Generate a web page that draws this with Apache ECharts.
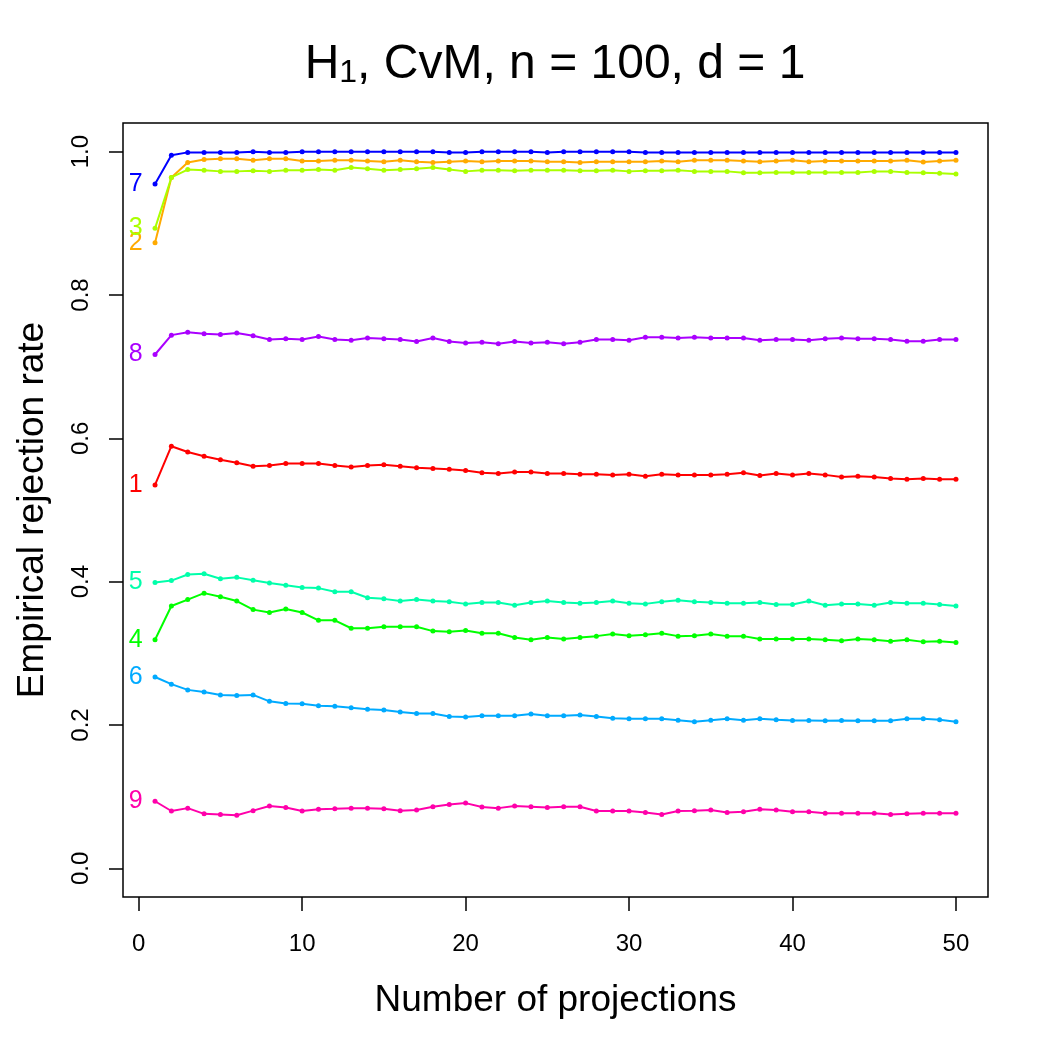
<!DOCTYPE html>
<html>
<head>
<meta charset="utf-8">
<script src="https://cdn.jsdelivr.net/npm/echarts@6/dist/echarts.min.js"></script>
<style>
  html, body { margin: 0; padding: 0; background: #fff; }
  #main { width: 1050px; height: 1050px; }
</style>
</head>
<body>
<div id="main"></div>
<script>
var projections = [1, 2, 3, 4, 5, 6, 7, 8, 9, 10, 11, 12, 13, 14, 15, 16, 17, 18, 19, 20,
  21, 22, 23, 24, 25, 26, 27, 28, 29, 30, 31, 32, 33, 34, 35, 36, 37, 38, 39, 40,
  41, 42, 43, 44, 45, 46, 47, 48, 49, 50]

var names = ['1', '2', '3', '4', '5', '6', '7', '8', '9']
var colors = ['#FF0000', '#FFAA00', '#AAFF00', '#00FF00', '#00FFAA', '#00AAFF', '#0000FF', '#AA00FF', '#FF00AA']

var rate1 = [0.535, 0.589, 0.581, 0.575, 0.570, 0.566, 0.561, 0.562, 0.565, 0.565,
  0.565, 0.562, 0.560, 0.562, 0.563, 0.561, 0.559, 0.558, 0.557, 0.555,
  0.552, 0.551, 0.553, 0.553, 0.551, 0.551, 0.550, 0.550, 0.549, 0.550,
  0.547, 0.550, 0.549, 0.549, 0.549, 0.550, 0.552, 0.548, 0.551, 0.549,
  0.551, 0.549, 0.546, 0.547, 0.546, 0.544, 0.543, 0.544, 0.543, 0.543]
var rate2 = [0.873, 0.964, 0.985, 0.989, 0.990, 0.990, 0.988, 0.990, 0.990, 0.987,
  0.987, 0.988, 0.988, 0.987, 0.986, 0.988, 0.986, 0.985, 0.986, 0.987,
  0.986, 0.987, 0.987, 0.987, 0.986, 0.986, 0.985, 0.986, 0.986, 0.986,
  0.986, 0.987, 0.986, 0.988, 0.988, 0.988, 0.987, 0.986, 0.987, 0.988,
  0.986, 0.987, 0.987, 0.987, 0.987, 0.987, 0.988, 0.9855, 0.987, 0.988]
var rate3 = [0.893, 0.964, 0.975, 0.974, 0.9725, 0.9725, 0.9735, 0.9725, 0.974, 0.974,
  0.975, 0.974, 0.978, 0.976, 0.974, 0.975, 0.976, 0.978, 0.975, 0.9725,
  0.974, 0.974, 0.9735, 0.974, 0.974, 0.974, 0.9735, 0.9735, 0.974, 0.9725,
  0.9735, 0.9735, 0.974, 0.9725, 0.9725, 0.9725, 0.9707, 0.9707, 0.971, 0.971,
  0.971, 0.971, 0.971, 0.971, 0.9725, 0.9725, 0.971, 0.9707, 0.970, 0.9687]
var rate4 = [0.319, 0.366, 0.375, 0.384, 0.379, 0.373, 0.361, 0.357, 0.362, 0.357,
  0.346, 0.346, 0.335, 0.335, 0.337, 0.337, 0.337, 0.331, 0.330, 0.332,
  0.328, 0.328, 0.322, 0.319, 0.322, 0.320, 0.322, 0.324, 0.327, 0.3245,
  0.326, 0.328, 0.324, 0.3245, 0.327, 0.324, 0.324, 0.320, 0.320, 0.320,
  0.320, 0.319, 0.3175, 0.320, 0.319, 0.317, 0.319, 0.316, 0.317, 0.315]
var rate5 = [0.399, 0.4015, 0.410, 0.411, 0.404, 0.406, 0.402, 0.398, 0.395, 0.392,
  0.391, 0.386, 0.386, 0.3775, 0.376, 0.373, 0.375, 0.373, 0.372, 0.369,
  0.371, 0.371, 0.367, 0.371, 0.373, 0.371, 0.370, 0.371, 0.373, 0.370,
  0.369, 0.372, 0.374, 0.372, 0.371, 0.370, 0.370, 0.371, 0.368, 0.368,
  0.373, 0.367, 0.369, 0.369, 0.367, 0.371, 0.370, 0.370, 0.368, 0.366]
var rate6 = [0.267, 0.257, 0.249, 0.246, 0.242, 0.241, 0.242, 0.233, 0.230, 0.2295,
  0.227, 0.226, 0.224, 0.222, 0.221, 0.218, 0.216, 0.216, 0.212, 0.211,
  0.213, 0.213, 0.213, 0.2155, 0.213, 0.213, 0.214, 0.212, 0.2095, 0.2086,
  0.2086, 0.2086, 0.2067, 0.2044, 0.2067, 0.2086, 0.2067, 0.2086, 0.2072, 0.2062,
  0.2062, 0.2058, 0.2062, 0.2058, 0.2058, 0.2058, 0.2086, 0.2086, 0.2072, 0.2044]
var rate7 = [0.955, 0.995, 0.999, 0.999, 0.999, 0.999, 1.0, 0.999, 0.999, 1.0,
  1.0, 1.0, 1.0, 1.0, 1.0, 1.0, 1.0, 1.0, 0.999, 0.999,
  1.0, 1.0, 1.0, 1.0, 0.999, 1.0, 1.0, 1.0, 1.0, 1.0,
  0.999, 0.999, 0.999, 0.999, 0.999, 0.999, 0.999, 0.999, 0.999, 0.999,
  0.999, 0.999, 0.999, 0.999, 0.999, 0.999, 0.999, 0.999, 0.999, 0.999]
var rate8 = [0.717, 0.744, 0.748, 0.746, 0.745, 0.747, 0.743, 0.738, 0.739, 0.738,
  0.742, 0.738, 0.737, 0.740, 0.739, 0.738, 0.735, 0.740, 0.735, 0.733,
  0.734, 0.732, 0.735, 0.733, 0.734, 0.732, 0.734, 0.738, 0.738, 0.737,
  0.741, 0.741, 0.740, 0.741, 0.740, 0.740, 0.740, 0.737, 0.738, 0.738,
  0.737, 0.739, 0.740, 0.739, 0.739, 0.738, 0.7355, 0.7355, 0.738, 0.738]
var rate9 = [0.0936, 0.080, 0.084, 0.076, 0.075, 0.074, 0.0805, 0.087, 0.085, 0.080,
  0.0825, 0.083, 0.084, 0.084, 0.083, 0.0805, 0.0815, 0.086, 0.089, 0.091,
  0.0857, 0.084, 0.087, 0.086, 0.085, 0.086, 0.086, 0.080, 0.080, 0.080,
  0.078, 0.075, 0.080, 0.0805, 0.0815, 0.078, 0.079, 0.0825, 0.0815, 0.079,
  0.079, 0.077, 0.077, 0.077, 0.077, 0.075, 0.076, 0.077, 0.077, 0.077]

var xTicks = [0, 10, 20, 30, 40, 50]
var yTicks = [0, 0.2, 0.4, 0.6, 0.8, 1.0]

var rates = [rate1, rate2, rate3, rate4, rate5, rate6, rate7, rate8, rate9]
var font = 'Liberation Sans, Arial, Helvetica, sans-serif'

var series = rates.map(function (r, k) {
  var data = r.map(function (v, i) {
    var item = { value: [projections[i], v] }
    if (i === 0) {
      // number of the curve, left of its first point
      item.label = {
        show: true,
        position: 'left',
        distance: 10,
        formatter: names[k],
        color: colors[k],
        fontSize: 25,
        fontFamily: font
      }
    }
    return item
  })
  return {
    type: 'line',
    name: names[k],
    data: data,
    symbol: 'circle',
    symbolSize: 5,
    showSymbol: true,
    lineStyle: { color: colors[k], width: 2 },
    itemStyle: { color: colors[k] },
    emphasis: { disabled: true }
  }
})

var myChart = echarts.init(document.getElementById('main'), null, { renderer: 'canvas' })
var option = {
  backgroundColor: '#fff',
  animation: false,
  title: {
    text: '{m|H}{s|1}{m|, CvM, n = 100, d = 1}',
    left: 550,
    textAlign: 'center',
    top: 24,
    textStyle: {
      fontWeight: 'normal',
      rich: {
        m: { fontSize: 48, fontWeight: 'normal', fontFamily: font, color: '#000', lineHeight: 60, verticalAlign: 'bottom' },
        s: { fontSize: 32, fontWeight: 'normal', fontFamily: font, color: '#000', lineHeight: 60, padding: [24, 0, 0, 0], verticalAlign: 'bottom' }
      }
    }
  },
  grid: {
    left: 123,
    right: 62,
    top: 123,
    bottom: 153,
    show: true,
    borderColor: '#000',
    borderWidth: 1.5,
    outerBoundsMode: 'none'
  },
  xAxis: {
    type: 'value',
    min: -0.96,
    max: 51.96,
    name: 'Number of projections',
    nameLocation: 'middle',
    nameGap: 85,
    nameTextStyle: { fontSize: 37, fontFamily: font, color: '#000' },
    axisLine: { show: false, onZero: false },
    splitLine: { show: false },
    axisTick: {
      show: true,
      inside: false,
      length: 14,
      customValues: xTicks,
      lineStyle: { color: '#000', width: 1.5 }
    },
    axisLabel: {
      customValues: xTicks,
      margin: 35,
      fontSize: 24,
      fontFamily: font,
      color: '#000'
    }
  },
  yAxis: {
    type: 'value',
    min: -0.04,
    max: 1.04,
    name: 'Empirical rejection rate',
    nameLocation: 'middle',
    nameGap: 72,
    nameTextStyle: { fontSize: 37, fontFamily: font, color: '#000' },
    axisLine: { show: false, onZero: false },
    splitLine: { show: false },
    axisTick: {
      show: true,
      inside: false,
      length: 14,
      customValues: yTicks,
      lineStyle: { color: '#000', width: 1.5 }
    },
    axisLabel: {
      customValues: yTicks,
      rotate: 90,
      margin: 30,
      fontSize: 24,
      fontFamily: font,
      color: '#000',
      formatter: function (v) { return v.toFixed(1) }
    }
  },
  series: series
}
myChart.setOption(option)
</script>
</body>
</html>
